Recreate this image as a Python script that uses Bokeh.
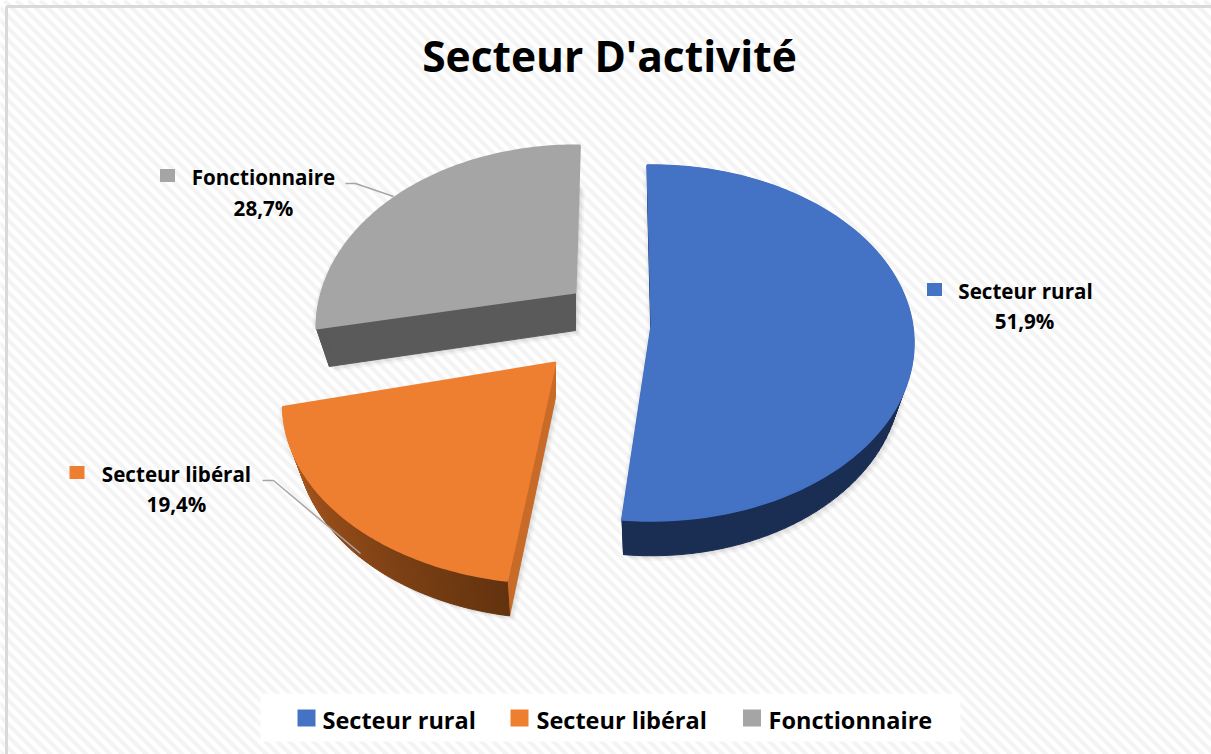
import math
from bokeh.plotting import figure
from bokeh.core.properties import value
from bokeh.embed import file_html
from bokeh.resources import INLINE

categories = ["Secteur rural", "Secteur libéral", "Fonctionnaire"]
shares = [51.9, 19.4, 28.7]
share_labels = ["51,9%", "19,4%", "28,7%"]
title_text = "Secteur D'activité"

colors = ["#4472C4", "#EF7F30", "#A5A5A5"]
START = -1.0
# perspective of each exploded slice: apex x, apex y, A, B, k, wall depth
geom = [(651, 325, 261, 176, 0.0986, 35),
        (555, 362, 265, 169, 0.236, 35),
        (575, 292, 254, 176, 0.197, 38)]
# small drawing rotation of each slice's start and end, from the picture's perspective
nudge = [(0, 0), (2.2, 0), (3, 2.2)]

W, H = 1211, 754
p = figure(width=W, height=H, x_range=(0, W), y_range=(H, 0),
           toolbar_location=None, output_backend="svg", min_border=0,
           background_fill_color="#ffffff",
           outline_line_color=None, border_fill_color="#ffffff")
p.axis.visible = False
p.grid.visible = False

# background stripes
period = 12
xs, ys = [], []
for c in range(-800, 1300, period):
    xs.append([c, c + 800])
    ys.append([0, 800])
p.multi_line(xs, ys, line_color="#f4f4f4", line_width=4.3)
p.line([6, W], [6, 6], line_color="#d9d9d9", line_width=3)
p.line([6, 6], [6, H], line_color="#d9d9d9", line_width=3)


def arc(g, a0, a1, n=90):
    ax, ay, A, B, k, d = g
    pts = []
    for i in range(n + 1):
        t = math.radians(a0 + (a1 - a0) * i / n)
        den = 1 + k * math.cos(t)
        pts.append((ax + A * math.sin(t) / den, ay - B * math.cos(t) / den))
    return pts


def low(g, pt):
    return (pt[0] - 0.05 * (pt[0] - g[0]), pt[1] + g[5])


def mix(c0, c1, f):
    return "#%02x%02x%02x" % tuple(round(a + (b - a) * f) for a, b in zip(c0, c1))


angles = []
cur = START
for s, nd in zip(shares, nudge):
    angles.append((cur + nd[0], cur + s * 3.6 + nd[1]))
    cur += s * 3.6

wall_blue = "#1a2d52"
wall_grey = "#5a5a5a"
side_orange = "#c86a28"

shapes = []
for g, (a0, a1) in zip(geom, angles):
    top = [(g[0], g[1])] + arc(g, a0, a1)
    bottom = [low(g, q) for q in top]
    shapes.append((g, a0, a1, top, bottom))

# soft shadows
for off, alpha in [(7, 0.035), (5, 0.05), (3, 0.07)]:
    for g, a0, a1, top, bottom in shapes:
        p.patch([q[0] + off - 2 for q in bottom], [q[1] + off - 2 for q in bottom],
                fill_color="#000000", fill_alpha=alpha, line_color=None)
        p.patch([q[0] - off + 2 for q in top], [q[1] + off - 4 for q in top],
                fill_color="#000000", fill_alpha=alpha * 0.6, line_color=None)

for i, (g, a0, a1, top, bottom) in enumerate(shapes):
    apex = top[0]
    first, last = top[1], top[-1]
    if i == 0:
        for edge in (first, last):
            wall = [apex, edge, low(g, edge), low(g, apex)]
            p.patch([q[0] for q in wall], [q[1] for q in wall], fill_color=wall_blue, line_color=wall_blue)
    if i == 1:
        wall = [apex, first, low(g, first), low(g, apex)]
        p.patch([q[0] for q in wall], [q[1] for q in wall], fill_color=side_orange, line_color=side_orange)
    if i == 2:
        wall = [apex, first, low(g, first), low(g, apex)]
        p.patch([q[0] for q in wall], [q[1] for q in wall], fill_color=wall_grey, line_color=wall_grey)
    # rim (the back of the grey slice is hidden, so its rim stops early)
    n = len(top) - 1
    for j in range(1, n if i != 2 else n // 3):
        q0, q1 = top[j], top[j + 1]
        w = [q0, q1, low(g, q1), low(g, q0)]
        if i == 0:
            col = wall_blue
        elif i == 1:
            col = mix((0x63, 0x33, 0x0f), (0xb8, 0x5e, 0x20), (j - 1) / (n - 1))
        else:
            col = wall_grey
        p.patch([q[0] for q in w], [q[1] for q in w], fill_color=col, line_color=col)

for (g, a0, a1, top, bottom), c in zip(shapes, colors):
    p.patch([q[0] for q in top], [q[1] for q in top], fill_color=c, line_color=c, line_width=2)

# leader lines
p.line([345, 355, 393], [183, 183, 196], line_color="#a6a6a6", line_width=1.5)
p.line([262, 273, 360], [480, 480, 553], line_color="#a6a6a6", line_width=1.5)

FONT = value("Open Sans")
# title
p.text([609], [55], text=[title_text], text_font=FONT, text_font_style="bold",
       text_font_size="42.5px", text_align="center", text_baseline="middle", text_color="#000000")

# data labels
lab_cat_xy = [(1025, 290), (176, 473), (263, 176)]
lab_pct_xy = [(1024, 320), (176, 503), (263, 207)]
lab_box = [(934, 289), (76.5, 472), (167, 175)]
for c, l, xy0, xy1, bx, col in zip(categories, share_labels, lab_cat_xy, lab_pct_xy, lab_box, colors):
    p.text([xy0[0]], [xy0[1]], text=[c], text_font=FONT, text_font_style="bold", text_font_size="20.6px",
           text_align="center", text_baseline="middle", text_color="#000000")
    p.text([xy1[0]], [xy1[1]], text=[l], text_font=FONT, text_font_style="bold", text_font_size="20.6px",
           text_align="center", text_baseline="middle", text_color="#000000")
    p.rect([bx[0]], [bx[1]], width=15, height=13, fill_color=col, line_color=None)

# legend
p.quad(left=[260], right=[960], top=[693], bottom=[741], fill_color="#ffffff", fill_alpha=0.92, line_color=None)
leg_box_x = [306, 519, 751.5]
leg_text_x = [322, 536, 768]
for c, bx, tx, col in zip(categories, leg_box_x, leg_text_x, colors):
    p.rect([bx], [717.5], width=18, height=17, fill_color=col, line_color=None)
    p.text([tx], [719], text=[c], text_font=FONT, text_font_style="bold", text_font_size="23.5px",
           text_align="left", text_baseline="middle", text_color="#000000")

open("out.html", "w").write(file_html(p, INLINE))
